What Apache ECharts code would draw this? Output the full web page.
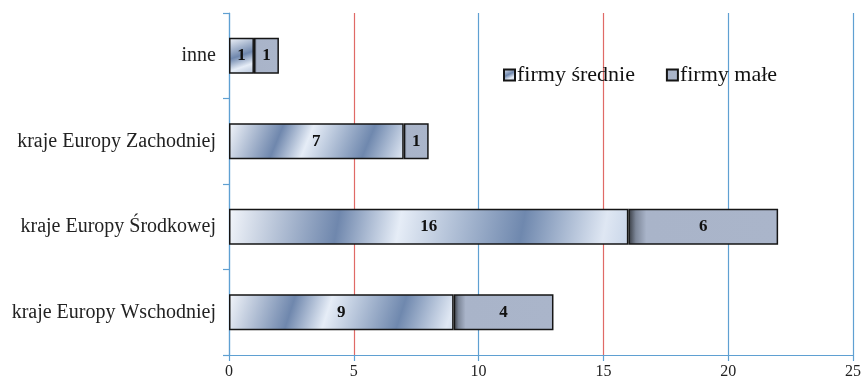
<!DOCTYPE html>
<html>
<head>
<meta charset="utf-8">
<script src="https://cdn.jsdelivr.net/npm/echarts@6/dist/echarts.min.js"></script>
<style>html,body{margin:0;padding:0;background:#fff;}#c{width:864px;height:383px;}</style>
</head>
<body>
<div id="c"></div>
<script>
var categories = ['inne', 'kraje Europy Zachodniej', 'kraje Europy Środkowej', 'kraje Europy Wschodniej'];
var seriesNames = ['firmy średnie', 'firmy małe'];
var srednie = [1, 7, 16, 9];
var male = [1, 1, 6, 4];
var xTicks = [0, 5, 10, 15, 20, 25];

var serif = '"Liberation Serif", "DejaVu Serif", serif';
var chart = echarts.init(document.getElementById('c'), null, {renderer: 'canvas'});

var gradSrednie = new echarts.graphic.LinearGradient(0, 0, 1, 2, [
  {offset: 0, color: '#f3f6fb'},
  {offset: 0.27, color: '#6f87ad'},
  {offset: 0.42, color: '#e6edf7'},
  {offset: 0.72, color: '#6f88ae'},
  {offset: 0.92, color: '#dfe7f3'},
  {offset: 1, color: '#c3d1e6'}
]);
var gradMale = new echarts.graphic.LinearGradient(0, 0, 1, 0, [
  {offset: 0, color: '#34383f'},
  {offset: 0.05, color: '#7d8799'},
  {offset: 0.12, color: '#a9b4c9'},
  {offset: 1, color: '#aab5ca'}
]);

var labelStyle = {
  show: true,
  position: 'inside',
  fontFamily: serif,
  fontWeight: 'bold',
  fontSize: 17,
  color: '#111'
};

var blue = '#5fa0d2';
var red = '#e06a66';

chart.setOption({
  animation: false,
  backgroundColor: '#fff',
  grid: {left: 229, right: 10, top: 13, bottom: 28},
  legend: {
    left: 498,
    top: 59,
    icon: 'rect',
    itemWidth: 11,
    itemHeight: 11,
    itemGap: 31,
    textStyle: {fontFamily: serif, fontSize: 22, color: '#111', padding: [0, 0, 0, -3]},
    data: seriesNames
  },
  xAxis: {
    type: 'value',
    min: xTicks[0],
    max: xTicks[xTicks.length - 1],
    interval: 5,
    axisLine: {show: true, lineStyle: {color: blue, width: 1.2}},
    axisTick: {show: true, length: 6, lineStyle: {color: blue, width: 1.2}},
    axisLabel: {fontFamily: serif, fontSize: 16, color: '#222', margin: 9},
    splitLine: {show: true, lineStyle: {color: [blue, red, blue, red, blue, blue], width: 1.2}}
  },
  yAxis: {
    type: 'category',
    inverse: true,
    data: categories,
    axisLine: {show: true, lineStyle: {color: blue, width: 1.2}},
    axisTick: {show: true, length: 6, lineStyle: {color: blue, width: 1.2}},
    axisLabel: {fontFamily: serif, fontSize: 20, color: '#222', margin: 13}
  },
  series: [
    {
      name: seriesNames[0],
      type: 'bar',
      stack: 'a',
      data: srednie,
      barCategoryGap: '58%',
      itemStyle: {color: gradSrednie, borderColor: '#151515', borderWidth: 1.5},
      label: labelStyle
    },
    {
      name: seriesNames[1],
      type: 'bar',
      stack: 'a',
      data: male,
      barCategoryGap: '58%',
      itemStyle: {color: gradMale, borderColor: '#151515', borderWidth: 1.5},
      label: labelStyle
    }
  ]
});
</script>
</body>
</html>
